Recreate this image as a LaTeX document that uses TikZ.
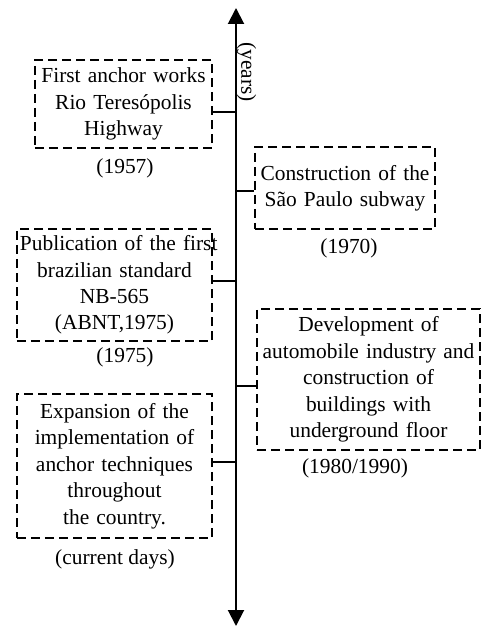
\documentclass[tikz,border=0pt]{standalone}
\usepackage{fontspec}
\setmainfont{Liberation Serif}
\usetikzlibrary{arrows.meta,positioning}
\newcommand\evfont{\fontsize{21.5}{26.5}\selectfont}
\tikzset{
  event/.style={draw, dash pattern=on 9bp off 5bp, line width=2.2bp, align=center, inner sep=0pt, font=\evfont},
  yearlbl/.style={font=\evfont, inner sep=0pt},
  tick/.style={line width=2bp}
}

\begin{document}
\begin{tikzpicture}[x=1bp,y=-1bp]
\useasboundingbox (0,0) rectangle (483,627);
\coordinate (top) at (236,8);
\coordinate (bot) at (236,626);
\draw [line width=2bp, {Triangle[width=16bp,length=16bp]}-{Triangle[width=16bp,length=16bp]}] (top)--(bot);
\node [font=\evfont, rotate=-90, inner sep=0pt] (years) at (246.5,72) {(years)};

\node [event, text width=177bp, minimum height=88bp] (ev1) at (123.5,104) {First anchor works\\Rio Teresópolis\\Highway};
\node [event, text width=180bp, minimum height=82bp] (ev2) at (345,188) {Construction of the\\São Paulo subway};
\node [event, text width=195bp, minimum height=112bp] (ev3) at (114.5,285) {\hspace*{2bp}\makebox[191bp][l]{Publication of the first}\\brazilian standard\\NB-565\\(ABNT,1975)};
\node [event, text width=223bp, minimum height=141bp] (ev4) at (368.5,379.5) {Development of\\automobile industry and\\construction of\\buildings with\\underground floor};
\node [event, text width=195bp, minimum height=144bp] (ev5) at (114.5,466) {Expansion of the\\implementation of\\anchor techniques\\throughout\\the country.};

\node [yearlbl] (y1) at (125,168) {(1957)};
\node [yearlbl] (y2) at (349,248) {(1970)};
\node [yearlbl] (y3) at (125,357) {(1975)};
\node [yearlbl] (y4) at (355,468) {(1980/1990)};
\node [yearlbl] (y5) at (115,559) {(current days)};

\coordinate (t1) at (236,112);
\coordinate (t2) at (236,191);
\coordinate (t3) at (236,281);
\coordinate (t4) at (236,386);
\coordinate (t5) at (236,462);
\draw [tick] (ev1.east |- t1)--(t1);
\draw [tick] (ev2.west |- t2)--(t2);
\draw [tick] (ev3.east |- t3)--(t3);
\draw [tick] (ev4.west |- t4)--(t4);
\draw [tick] (ev5.east |- t5)--(t5);

\end{tikzpicture}
\end{document}
